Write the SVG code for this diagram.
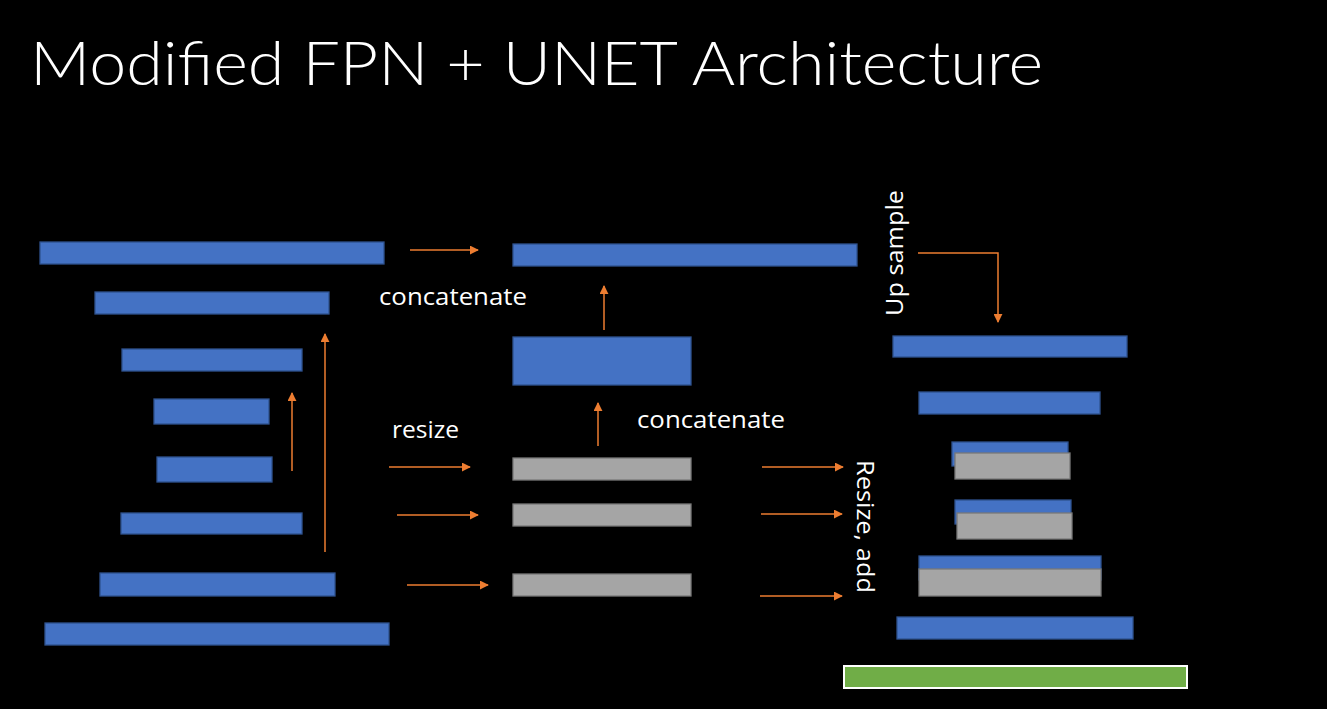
<svg xmlns="http://www.w3.org/2000/svg" width="1327" height="709" viewBox="0 0 1327 709">
  <defs>
    <style>
      .blue { fill: #4472C4; stroke: #2F528F; stroke-width: 1.3; }
      .gray { fill: #A5A5A5; stroke: #787878; stroke-width: 1.3; }
      .out { fill: #70AD47; stroke: #FFFFFF; stroke-width: 2; }
      .title { font-family: Lato, "Open Sans", "Liberation Sans", sans-serif; font-weight: 300; font-size: 62px; fill: #FFFFFF; }
      .label { font-family: "Open Sans", "Noto Sans", "Liberation Sans", sans-serif; font-size: 23px; fill: #FFFFFF; }
      .conn { fill: none; stroke: #ED7D31; stroke-width: 1.5; marker-end: url(#arrow); }
    </style>
    <marker id="arrow" viewBox="0 0 10 10" refX="9" refY="5" markerWidth="6" markerHeight="6" markerUnits="strokeWidth" orient="auto">
      <path d="M0,0 L10,5 L0,10 z" fill="#ED7D31"/>
    </marker>
  </defs>

  <rect width="1327" height="709" fill="#000000"/>

  <text class="title" x="30" y="85" textLength="1013" lengthAdjust="spacingAndGlyphs">Modified FPN + UNET Architecture</text>

  <!-- encoder feature maps -->
  <g id="enc1"><rect class="blue" x="40" y="242" width="344" height="22"/></g>
  <g id="enc2"><rect class="blue" x="95" y="292" width="234" height="22"/></g>
  <g id="enc3"><rect class="blue" x="122" y="349" width="180" height="22"/></g>
  <g id="enc4"><rect class="blue" x="154" y="399" width="115" height="25"/></g>
  <g id="enc5"><rect class="blue" x="157" y="457" width="115" height="25"/></g>
  <g id="enc6"><rect class="blue" x="121" y="513" width="181" height="21"/></g>
  <g id="enc7"><rect class="blue" x="100" y="573" width="235" height="23"/></g>
  <g id="enc8"><rect class="blue" x="45" y="623" width="344" height="22"/></g>

  <!-- middle column -->
  <g id="concat-top"><rect class="blue" x="513" y="244" width="344" height="22"/></g>
  <g id="concat-mid"><rect class="blue" x="513" y="337" width="178" height="48"/></g>
  <g id="resize1"><rect class="gray" x="513" y="458" width="178" height="22"/></g>
  <g id="resize2"><rect class="gray" x="513" y="504" width="178" height="22"/></g>
  <g id="resize3"><rect class="gray" x="513" y="574" width="178" height="22"/></g>

  <!-- decoder column -->
  <g id="dec1"><rect class="blue" x="893" y="336" width="234" height="21"/></g>
  <g id="dec2"><rect class="blue" x="919" y="392" width="181" height="22"/></g>
  <g id="dec3">
    <rect class="blue" x="952" y="442" width="116" height="24"/>
    <rect class="gray" x="955" y="453" width="115" height="26"/>
  </g>
  <g id="dec4">
    <rect class="blue" x="955" y="500" width="116" height="24"/>
    <rect class="gray" x="957" y="513" width="115" height="26"/>
  </g>
  <g id="dec5">
    <rect class="blue" x="919" y="556" width="182" height="24"/>
    <rect class="gray" x="919" y="569" width="182" height="27"/>
  </g>
  <g id="dec6"><rect class="blue" x="897" y="617" width="236" height="22"/></g>
  <g id="output"><rect class="out" x="844" y="666" width="343" height="22"/></g>

  <!-- labels -->
  <g id="labels">
    <text class="label" x="379" y="305" textLength="148" lengthAdjust="spacingAndGlyphs">concatenate</text>
    <text class="label" x="637" y="428" textLength="148" lengthAdjust="spacingAndGlyphs">concatenate</text>
    <text class="label" x="392" y="438" textLength="67" lengthAdjust="spacingAndGlyphs">resize</text>
    <text class="label" transform="translate(903,316) rotate(-90)" textLength="126" lengthAdjust="spacingAndGlyphs">Up sample</text>
    <text class="label" transform="translate(857,460) rotate(90)" textLength="133" lengthAdjust="spacingAndGlyphs">Resize, add</text>
  </g>

  <!-- connectors -->
  <g id="connectors">
    <line class="conn" x1="325" y1="552" x2="325" y2="334"/>
    <line class="conn" x1="292" y1="471" x2="292" y2="393"/>
    <line class="conn" x1="410" y1="250" x2="478" y2="250"/>
    <line class="conn" x1="604" y1="330" x2="604" y2="286"/>
    <line class="conn" x1="598" y1="446" x2="598" y2="403"/>
    <line class="conn" x1="389" y1="467" x2="470" y2="467"/>
    <line class="conn" x1="397" y1="515" x2="478" y2="515"/>
    <line class="conn" x1="407" y1="585" x2="488" y2="585"/>
    <line class="conn" x1="762" y1="467" x2="843" y2="467"/>
    <line class="conn" x1="761" y1="514" x2="842" y2="514"/>
    <line class="conn" x1="760" y1="596" x2="842" y2="596"/>
    <polyline class="conn" points="918,253 998,253 998,322"/>
  </g>
</svg>
